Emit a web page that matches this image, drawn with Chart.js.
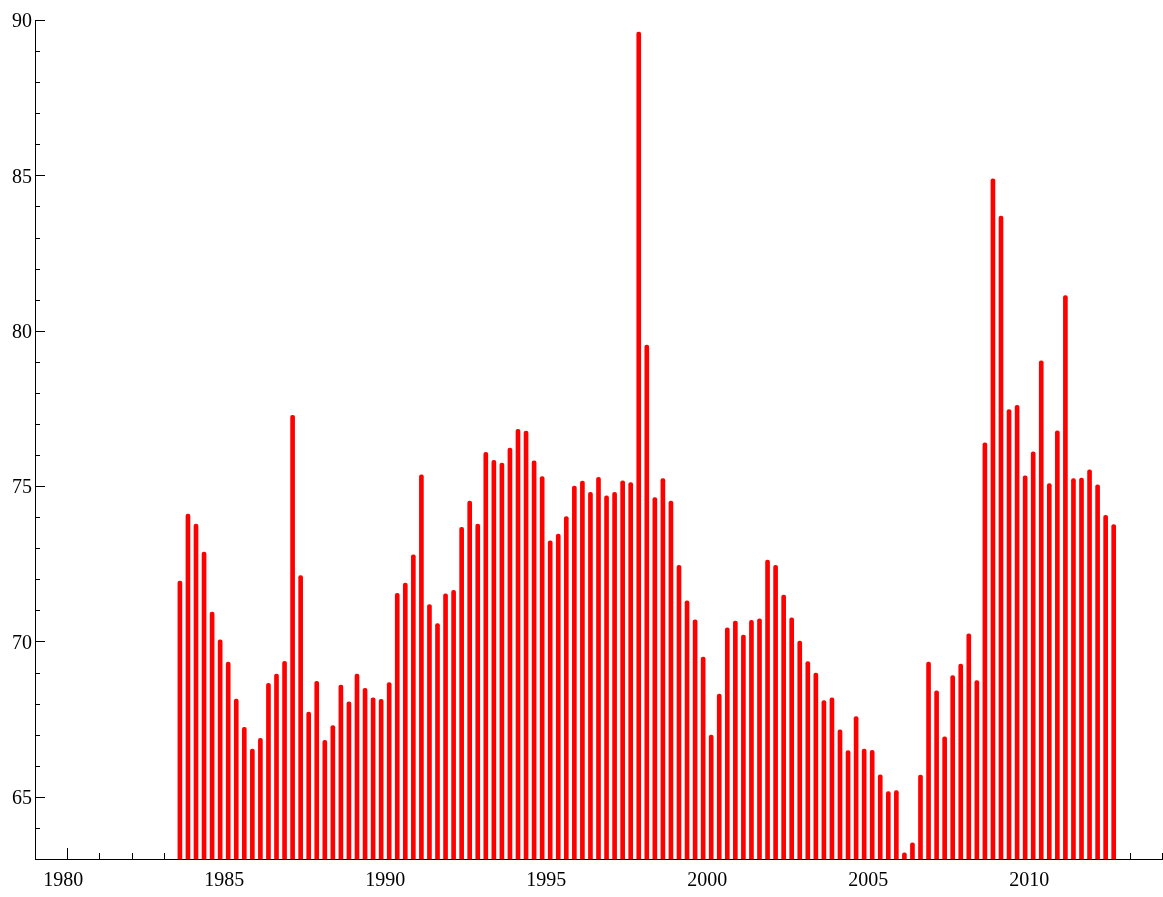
<!DOCTYPE html>
<html>
<head>
<meta charset="utf-8">
<script src="https://cdn.jsdelivr.net/npm/chart.js@4.4.1/dist/chart.umd.min.js"></script>
<style>
    html, body { margin: 0; padding: 0; background: #ffffff; }
    canvas { display: block; }
</style>
</head>
<body>
<canvas id="chart" width="1163" height="897"></canvas>
<script>
// Quarterly series, decimal years
const dates = [
    1983.5, 1983.75,
    1984, 1984.25, 1984.5, 1984.75,
    1985, 1985.25, 1985.5, 1985.75,
    1986, 1986.25, 1986.5, 1986.75,
    1987, 1987.25, 1987.5, 1987.75,
    1988, 1988.25, 1988.5, 1988.75,
    1989, 1989.25, 1989.5, 1989.75,
    1990, 1990.25, 1990.5, 1990.75,
    1991, 1991.25, 1991.5, 1991.75,
    1992, 1992.25, 1992.5, 1992.75,
    1993, 1993.25, 1993.5, 1993.75,
    1994, 1994.25, 1994.5, 1994.75,
    1995, 1995.25, 1995.5, 1995.75,
    1996, 1996.25, 1996.5, 1996.75,
    1997, 1997.25, 1997.5, 1997.75,
    1998, 1998.25, 1998.5, 1998.75,
    1999, 1999.25, 1999.5, 1999.75,
    2000, 2000.25, 2000.5, 2000.75,
    2001, 2001.25, 2001.5, 2001.75,
    2002, 2002.25, 2002.5, 2002.75,
    2003, 2003.25, 2003.5, 2003.75,
    2004, 2004.25, 2004.5, 2004.75,
    2005, 2005.25, 2005.5, 2005.75,
    2006, 2006.25, 2006.5, 2006.75,
    2007, 2007.25, 2007.5, 2007.75,
    2008, 2008.25, 2008.5, 2008.75,
    2009, 2009.25, 2009.5, 2009.75,
    2010, 2010.25, 2010.5, 2010.75,
    2011, 2011.25, 2011.5, 2011.75,
    2012, 2012.25, 2012.5
];

const values = [
    71.94, 74.10,
    73.78, 72.88, 70.95, 70.05,
    69.34, 68.15, 67.24, 66.54,
    66.88, 68.65, 68.95, 69.36,
    77.28, 72.12, 67.73, 68.72,
    66.82, 67.29, 68.60, 68.06,
    68.95, 68.49, 68.19, 68.14,
    68.68, 71.55, 71.88, 72.79,
    75.36, 71.19, 70.58, 71.53,
    71.65, 73.67, 74.52, 73.78,
    76.09, 75.83, 75.74, 76.22,
    76.83, 76.77, 75.81, 75.31,
    73.24, 73.46, 74.02, 75.00,
    75.16, 74.80, 75.28, 74.69,
    74.80, 75.17, 75.11, 89.61,
    79.54, 74.63, 75.24, 74.52,
    72.45, 71.31, 70.70, 69.50,
    66.99, 68.31, 70.44, 70.66,
    70.21, 70.68, 70.73, 72.62,
    72.45, 71.49, 70.76, 70.01,
    69.35, 68.98, 68.10, 68.19,
    67.16, 66.49, 67.58, 66.54,
    66.50, 65.71, 65.17, 65.20,
    63.20, 63.52, 65.70, 69.34,
    68.41, 66.93, 68.90, 69.27,
    70.25, 68.74, 76.39, 84.89,
    83.69, 77.46, 77.60, 75.33,
    76.10, 79.03, 75.08, 76.78,
    81.13, 75.24, 75.26, 75.52,
    75.04, 74.06, 73.76
];

const xTicks = [1980, 1985, 1990, 1995, 2000, 2005, 2010];
const xMinorTicks = [1979, 1980, 1981, 1982, 1983, 1984, 1985, 1986, 1987, 1988, 1989,
    1990, 1991, 1992, 1993, 1994, 1995, 1996, 1997, 1998, 1999, 2000, 2001, 2002,
    2003, 2004, 2005, 2006, 2007, 2008, 2009, 2010, 2011, 2012, 2013, 2014];
const yTicks = [65, 70, 75, 80, 85, 90];
const yMinorTicks = [64, 65, 66, 67, 68, 69, 70, 71, 72, 73, 74, 75, 76, 77, 78, 79,
    80, 81, 82, 83, 84, 85, 86, 87, 88, 89, 90];

// Inward tick marks (drawn before the bars so bars sit on top)
const innerTicks = {
    id: 'innerTicks',
    beforeDatasetsDraw(chart) {
        const ctx = chart.ctx;
        const x = chart.scales.x;
        const y = chart.scales.y;
        const area = chart.chartArea;
        ctx.save();
        ctx.strokeStyle = '#000000';
        ctx.lineWidth = 1;
        ctx.beginPath();
        xMinorTicks.forEach(v => {
            const px = Math.round(x.getPixelForValue(v)) + 0.5;
            const len = xTicks.includes(v) ? 11 : 6;
            ctx.moveTo(px, area.bottom);
            ctx.lineTo(px, area.bottom - len);
        });
        yMinorTicks.forEach(v => {
            const py = Math.round(y.getPixelForValue(v)) + 0.5;
            const len = yTicks.includes(v) ? 10 : 5;
            ctx.moveTo(area.left, py);
            ctx.lineTo(area.left + len, py);
        });
        ctx.stroke();
        ctx.restore();
    }
};

new Chart(document.getElementById('chart'), {
    type: 'bar',
    data: {
        datasets: [{
            data: dates.map((d, i) => ({ x: d, y: values[i] })),
            backgroundColor: '#ff0000',
            borderWidth: 0,
            barThickness: 4,
            borderRadius: 2,
            borderSkipped: 'start',
            base: 63
        }]
    },
    options: {
        responsive: false,
        animation: false,
        layout: {
            padding: { top: 20, right: 1, left: 0, bottom: 0 }
        },
        plugins: {
            legend: { display: false },
            tooltip: { enabled: false },
            title: { display: false }
        },
        scales: {
            x: {
                type: 'linear',
                min: 1979,
                max: 2014,
                offset: false,
                afterBuildTicks: function(scale) {
                    scale.ticks = xTicks.map(v => ({ value: v }));
                },
                afterFit: function(scale) {
                    scale.height = 38;
                },
                grid: { display: false, drawTicks: false, offset: false },
                border: { display: true, color: '#000000', width: 1 },
                ticks: {
                    color: '#000000',
                    padding: 10,
                    labelOffset: -4,
                    maxRotation: 0,
                    autoSkip: false,
                    font: { family: '"Liberation Serif", "Times New Roman", serif', size: 20 },
                    callback: function(value) {
                        return String(value);
                    }
                }
            },
            y: {
                min: 63,
                max: 90,
                afterBuildTicks: function(scale) {
                    scale.ticks = yTicks.map(v => ({ value: v }));
                },
                afterFit: function(scale) {
                    scale.width = 35;
                },
                grid: { display: false, drawTicks: false },
                border: { display: true, color: '#000000', width: 1 },
                ticks: {
                    color: '#000000',
                    padding: 3,
                    labelOffset: 2,
                    font: { family: '"Liberation Serif", "Times New Roman", serif', size: 20 }
                }
            }
        }
    },
    plugins: [innerTicks]
});
</script>
</body>
</html>
